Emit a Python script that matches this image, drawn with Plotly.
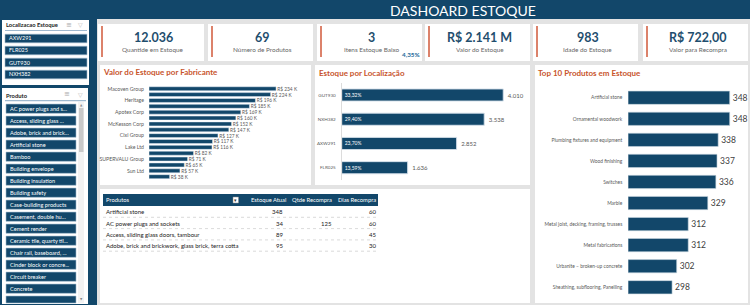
import plotly.graph_objects as go
import numpy as np

# ---------------- DATA ----------------
titulo = "DASHOARD ESTOQUE"

slicer_local_titulo = "Localizacao Estoque"
slicer_local_itens = ["AXW291", "FLR025", "GUT930", "NXH382"]

slicer_prod_titulo = "Produto"
slicer_prod_itens = [
    "AC power plugs and s...", "Access, sliding glass ...", "Adobe, brick and brick...",
    "Artificial stone", "Bamboo", "Building envelope", "Building insulation",
    "Building safety", "Case-building products", "Casement, double hu...",
    "Cement render", "Ceramic tile, quarty til...", "Chair rail, baseboard, ...",
    "Cinder block or concre...", "Circuit breaker", "Concrete",
]

kpi_valores = ["12.036", "69", "3", "R$ 2.141 M", "983", "R$ 722,00"]
kpi_rotulos = ["Quantide em Estoque", "Número de Produtos", "Itens Estoque Baixo",
               "Valor do Estoque", "Idade do Estoque", "Valor para Recompra"]
pct_estoque_baixo = "4,35%"

fab_titulo = "Valor do Estoque por Fabricante"
fabricantes = ["Macoven Group", "", "Heritage", "", "Apotex Corp", "", "McKesson Corp", "",
               "Cixi Group", "", "Lake Ltd", "", "SUPERVALU Group", "", "Sun Ltd", ""]
valor_fab_k = [234, 224, 196, 185, 169, 160, 152, 147, 127, 117, 116, 82, 71, 65, 57, 38]

loc_titulo = "Estoque por Localização"
locais = ["GUT930", "NXH382", "AXW291", "FLR025"]
qtd_local = [4010, 3538, 2852, 1636]

top_titulo = "Top 10 Produtos em Estoque"
top_produtos = ["Artificial stone", "Ornamental woodwork", "Plumbing fixtures and equipment",
                "Wood finishing", "Switches", "Marble", "Metal joist, decking, framing, trusses",
                "Metal fabrications", "Urbanite – broken-up concrete",
                "Sheathing, subflooring, Panelling"]
top_qtd = [348, 348, 338, 337, 336, 329, 312, 312, 302, 298]

tab_colunas = ["Produtos", "Estoque Atual", "Qtde Recompra", "Dias Recompra"]
tab_produtos = ["Artificial stone", "AC power plugs and sockets",
                "Access, sliding glass doors, tambour",
                "Adobe, brick and brickwork, glass brick, terra cotta"]
tab_estoque = [348, 34, 89, 95]
tab_qtde_recompra = [None, 125, None, None]
tab_dias = [60, 60, 45, 30]

# ---------------- STYLE / HELPERS ----------------
W, H = 750, 305
FONT = "Lato"
AZUL = "#12476a"
LARANJA = "#c8552d"
CINZA_TXT = "#595959"
BG = "#e3e3e3"


def X(px):
    return px / W


def Y(py):
    return 1 - py / H


shapes = []
annotations = []


def rect(x0, y0, x1, y1, fill, line_color=None, line_width=0, layer="below"):
    shapes.append(dict(type="rect", xref="paper", yref="paper",
                       x0=X(x0), x1=X(x1), y0=Y(y1), y1=Y(y0),
                       fillcolor=fill, layer=layer,
                       line=dict(color=line_color or fill, width=line_width)))


def line(x0, y0, x1, y1, color, width=1, dash="solid", layer="below"):
    shapes.append(dict(type="line", xref="paper", yref="paper",
                       x0=X(x0), x1=X(x1), y0=Y(y0), y1=Y(y1), layer=layer,
                       line=dict(color=color, width=width, dash=dash)))


def txt(x, y, s, size, color, xanchor="left", bold=False, family=FONT):
    annotations.append(dict(x=X(x), y=Y(y), xref="paper", yref="paper",
                            text=("<b>%s</b>" % s) if bold else s, showarrow=False,
                            xanchor=xanchor, yanchor="middle", borderpad=0,
                            font=dict(size=size, color=color, family=family)))


# ---------------- BACKGROUND STRUCTURE ----------------
rect(0, 0, 97, 305, AZUL)
rect(0, 0, 750, 19, AZUL)
txt(389, 10, titulo, 14, "white")

# Slicer: localizacao
rect(2, 20, 89, 85, "white")
txt(5, 25, slicer_local_titulo, 5.8, "#222", bold=True)
txt(69, 25, "≡", 7, "#aaa", xanchor="center", family="DejaVu Sans")
txt(80, 25, "▽", 6, "#bbb", xanchor="center", family="DejaVu Sans")
line(5, 30.5, 87, 30.5, "#9fb9cf", 1.2)
for i, item in enumerate(slicer_local_itens):
    cy = 38.5 + 12 * i
    rect(5, cy - 4.3, 87, cy + 4.3, AZUL, "#9fb9cf", 0.6)
    txt(8, cy, item, 5.5, "white")

# Slicer: produto
rect(2, 88, 88, 304, "white")
txt(5, 95, slicer_prod_titulo, 5.8, "#222", bold=True)
txt(67, 94.5, "≡", 7, "#aaa", xanchor="center", family="DejaVu Sans")
txt(80, 94.5, "▽", 6, "#bbb", xanchor="center", family="DejaVu Sans")
line(5, 100.7, 86, 100.7, "#9fb9cf", 1.2)
for i, item in enumerate(slicer_prod_itens):
    cy = 108.7 + 12 * i
    rect(6, cy - 4.6, 76, cy + 4.6, AZUL, "#9fb9cf", 0.6)
    txt(9, cy, item, 5.6, "white")
rect(6, 296, 76, 303, AZUL, "#9fb9cf", 0.6)
rect(78, 102, 84, 303, "#f2f2f2")
rect(79, 108, 83.5, 152, "#c9c9c9")
txt(81, 105, "▲", 3, "#888", xanchor="center", family="DejaVu Sans")
txt(81, 299, "▼", 3, "#888", xanchor="center", family="DejaVu Sans")

# KPI cards
cards = [(98, 204), (208, 313), (317, 422), (425, 530), (533, 638), (643, 748)]
for (x0, x1), v, r in zip(cards, kpi_valores, kpi_rotulos):
    rect(x0, 24, x1, 61, "white")
    line(x0 + 4, 26, x0 + 4, 57, "#d0583a", 1.5)
    cx = (x0 + x1) / 2 + 2
    txt(cx, 37, v, 12.5, "#1f4e6e", xanchor="center", bold=True)
    txt(cx, 50, r, 6.4, "#666", xanchor="center")
txt(421, 55, pct_estoque_baixo, 6.3, "#1f6b9a", xanchor="right", bold=True)

# Chart panels
rect(100, 65, 311, 185, "white")
rect(315, 65, 530, 185, "white")
rect(535, 65, 748, 303, "white")
rect(100, 189, 530, 303, "white")
txt(102, 72.5, fab_titulo, 8, LARANJA, bold=True)
txt(318, 73, loc_titulo, 8, LARANJA, bold=True)
txt(537, 73, top_titulo, 8, LARANJA, bold=True)

# Table
rect(103, 194, 378, 206, AZUL)
txt(105, 200, tab_colunas[0], 5.8, "white")
rect(233, 197, 238.5, 203, "white", "#888", 0.5)
txt(235.8, 200, "▾", 5, "#333", xanchor="center", family="DejaVu Sans")
col_right = [None, 287, 333, 377]
for j in range(1, 4):
    txt(col_right[j], 200, tab_colunas[j], 5.8, "white", xanchor="right")
for i, p in enumerate(tab_produtos):
    cy = 211.7 + 11.3 * i
    txt(105, cy, p, 6, "#222")
    txt(284, cy, str(tab_estoque[i]), 6, "#222", xanchor="right")
    if tab_qtde_recompra[i] is not None:
        txt(333, cy, str(tab_qtde_recompra[i]), 6, "#222", xanchor="right")
    txt(377, cy, str(tab_dias[i]), 6, "#222", xanchor="right")
    line(103, cy + 5.6, 378, cy + 5.6, "#d0d0d0", 0.8, "dot")

# ---------------- TRACES ----------------
fig = go.Figure()

# Valor por fabricante
idx_fab = list(range(len(valor_fab_k)))
fig.add_trace(go.Bar(
    x=valor_fab_k, y=idx_fab, orientation="h", width=0.68,
    marker=dict(color=AZUL), xaxis="x", yaxis="y",
    texttemplate="\u00a0R$ %{x} K", textposition="outside",
    textfont=dict(size=4.8, color=CINZA_TXT, family=FONT),
    constraintext="none", cliponaxis=False, hoverinfo="skip"))

# Estoque por localizacao
pct_local = np.array(qtd_local) / np.sum(qtd_local)
fig.add_trace(go.Bar(
    x=qtd_local, y=locais, orientation="h", width=0.5,
    marker=dict(color=AZUL, line=dict(color="#c9d6e0", width=0.6)),
    xaxis="x2", yaxis="y2",
    customdata=pct_local, texttemplate="%{customdata:.2%}", textposition="inside",
    insidetextanchor="start", textfont=dict(size=5, color="white", family=FONT),
    constraintext="none", cliponaxis=False, hoverinfo="skip"))
fig.add_trace(go.Bar(
    x=qtd_local, y=locais, orientation="h", width=0.5,
    marker=dict(color="rgba(0,0,0,0)"), xaxis="x2", yaxis="y2",
    texttemplate="\u00a0%{x:,.0f}", textposition="outside",
    textfont=dict(size=6, color=CINZA_TXT, family=FONT),
    constraintext="none", cliponaxis=False, hoverinfo="skip"))

# Top 10
fig.add_trace(go.Bar(
    x=top_qtd, y=top_produtos, orientation="h", width=0.63,
    marker=dict(color=AZUL, line=dict(color="#c9d6e0", width=0.6)),
    xaxis="x3", yaxis="y3",
    texttemplate="%{x}", textposition="outside",
    textfont=dict(size=8.5, color="#404040", family=FONT),
    constraintext="none", cliponaxis=False, hoverinfo="skip"))

tickfont_small = dict(size=5.2, color=CINZA_TXT, family=FONT)
hidden_x = dict(showgrid=False, zeroline=False, showticklabels=False, showline=False, ticks="")

fig.update_layout(
    width=W, height=H, margin=dict(l=0, r=0, t=0, b=0),
    paper_bgcolor=BG, plot_bgcolor="rgba(0,0,0,0)",
    showlegend=False, barmode="overlay", separators=",.",
    font=dict(family=FONT),
    shapes=shapes, annotations=annotations,
    xaxis=dict(domain=[X(149), X(284.75)], range=[0, 250], **hidden_x),
    yaxis=dict(domain=[Y(179.6), Y(85.8)], range=[15.5, -0.5], anchor="x",
               tickvals=[i for i, n in enumerate(fabricantes) if n],
               ticktext=[n for n in fabricantes if n],
               tickfont=tickfont_small, showgrid=False, zeroline=False, ticks="",
               ticklabelstandoff=4, showline=False),
    xaxis2=dict(domain=[X(341.7), X(523)], range=[0, 4500], anchor="y2", **hidden_x),
    yaxis2=dict(domain=[Y(179.8), Y(82.9)], anchor="x2", autorange="reversed",
                tickfont=dict(size=4.6, color=CINZA_TXT, family=FONT),
                showgrid=False, zeroline=False, ticks="", ticklabelstandoff=4,
                showline=True, linecolor="#dcdcdc", linewidth=1),
    xaxis3=dict(domain=[X(628.3), X(732)], range=[260, 350], anchor="y3", **hidden_x),
    yaxis3=dict(domain=[Y(297.8), Y(87.2)], anchor="x3", autorange="reversed",
                tickfont=dict(size=4.9, color=CINZA_TXT, family=FONT),
                showgrid=False, zeroline=False, ticks="", ticklabelstandoff=5,
                showline=False),
)

fig.write_html("out.html")
